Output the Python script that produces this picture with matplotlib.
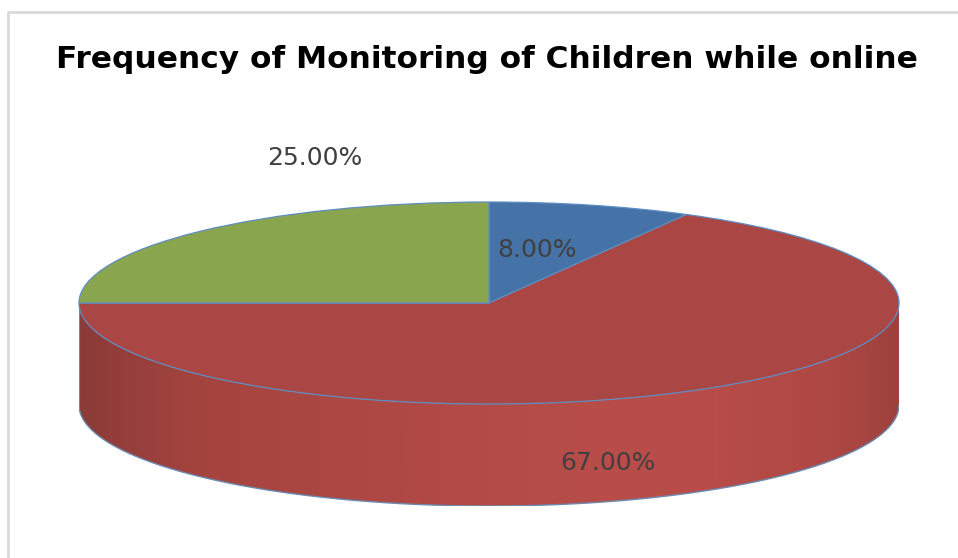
import numpy as np
import matplotlib
matplotlib.use("Agg")
import matplotlib.pyplot as plt
from matplotlib.patches import Polygon
from matplotlib.colors import LinearSegmentedColormap

# ---- data ----
title = "Frequency of Monitoring of Children while online"
values = [8.0, 67.0, 25.0]
labels = ["8.00%", "67.00%", "25.00%"]
top_colors = ["#4572A7", "#AA4643", "#89A54E"]

W, H = 958, 558
fig = plt.figure(figsize=(W / 100, H / 100), dpi=100)
fig.patch.set_facecolor("white")

# background axes in pixel coordinates (y downwards)
bg = fig.add_axes([0, 0, 1, 1])
bg.set_xlim(0, W)
bg.set_ylim(H, 0)
bg.axis("off")
bg.plot([8, 8, W + 5], [H + 5, 12, 12], color="#D9D9D9", lw=2, solid_capstyle="butt")
bg.text(487, 60, title, ha="center", va="center", fontsize=22.5, fontweight="bold",
        color="black", family=["DejaVu Sans"])
bg.set_zorder(0)

# pie geometry (pixels)
cx, cy = 489, 303
a, b = 410, 101
thick = 102
left = (cx - a) / W
width = 2 * a / W
h_units = thick / b
bottom_px = cy + b + thick
ax_h = (b * 2 + thick) / H
ax_b = (H - bottom_px) / H
pax = fig.add_axes([left, ax_b, width, ax_h])
pax.set_zorder(1)

# side of the cylinder (front, lower half)
t = np.linspace(np.pi, 2 * np.pi, 300)
top_arc = np.column_stack([np.cos(t), np.sin(t)])
bot_arc = np.column_stack([np.cos(t[::-1]), np.sin(t[::-1]) - h_units])
side = Polygon(np.vstack([top_arc, bot_arc]), closed=True, facecolor="none",
               edgecolor="none")
pax.add_patch(side)
cmap = LinearSegmentedColormap.from_list(
    "side", [(0.0, "#8C3B38"), (0.15, "#A5443F"), (0.55, "#B64C48"),
             (0.75, "#B94D49"), (0.92, "#AE4844"), (1.0, "#9E413E")])
grad = np.linspace(0, 1, 400)[None, :]
im = pax.imshow(grad, cmap=cmap, extent=(-1, 1, -1 - h_units, 0), aspect="auto",
                zorder=1, interpolation="bilinear")
im.set_clip_path(side)
pax.plot(np.cos(t), np.sin(t) - h_units, color="#6A8AB0", lw=1.0, zorder=2)
pax.plot([-1, -1], [0, -h_units], color="#6A8AB0", lw=0.8, zorder=2)
pax.plot([1, 1], [0, -h_units], color="#6A8AB0", lw=0.8, zorder=2)

# top surface
wedges, _ = pax.pie(values, colors=top_colors, startangle=90, counterclock=False,
                    radius=1, center=(0, 0), frame=True,
                    wedgeprops=dict(edgecolor="#5E8DC2", linewidth=0.9))
for w in wedges:
    w.set_zorder(3)
pax.set_xlim(-1, 1)
pax.set_ylim(-1 - h_units, 1)
pax.set_aspect("auto")
pax.axis("off")

# labels layer (pixel coordinates)
lay = fig.add_axes([0, 0, 1, 1])
lay.set_xlim(0, W)
lay.set_ylim(H, 0)
lay.axis("off")
lay.set_zorder(5)
lab_pos = [(537, 250), (608, 463), (315, 158)]
for (x, y), txt in zip(lab_pos, labels):
    lay.text(x, y, txt, ha="center", va="center", fontsize=18, color="#404040",
             family=["DejaVu Sans"])

fig.savefig("out.png", dpi=100, facecolor="white")
